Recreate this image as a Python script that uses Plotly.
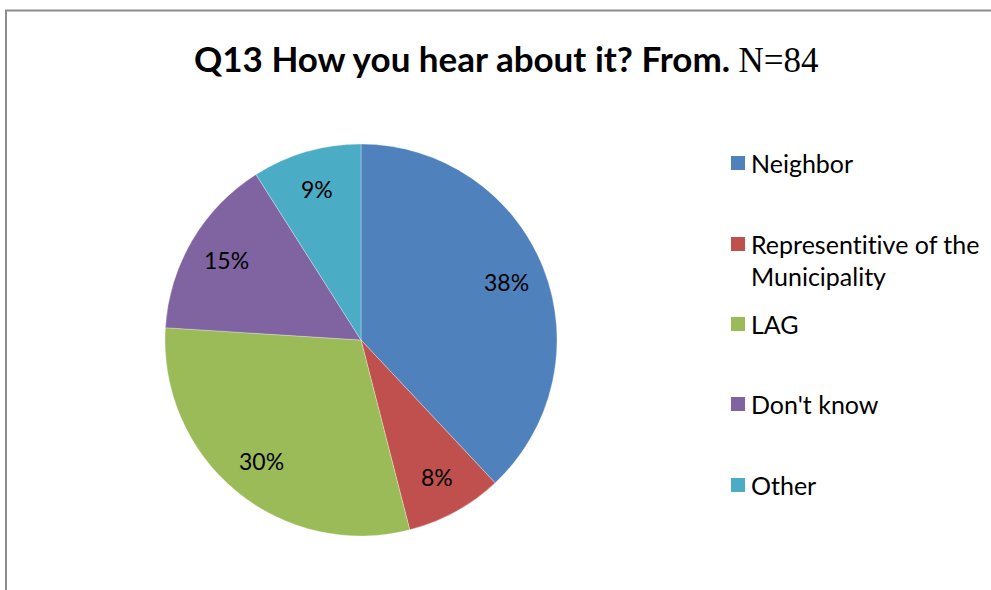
import math
import plotly.graph_objects as go

labels = ["Neighbor", "Representitive of the<br>Municipality", "LAG", "Don't know", "Other"]
values = [38, 8, 30, 15, 9]
colors = ["#4F81BD", "#C0504D", "#9BBB59", "#8064A2", "#4BACC6"]
title_text = "Q13 How you hear about it? From. "
title_n = "N=84"

W, H = 991, 590
FONT = "Lato, Open Sans, sans-serif"
CX, CY, R = 361, 340, 196  # pie centre / radius in pixels (layout)


def no_lig(s):
    # avoid the "ti" ligature of Lato
    return s.replace("ti", "t\u200ci")


fig = go.Figure()
fig.add_trace(go.Pie(
    labels=labels, values=values, sort=False, direction="clockwise", rotation=0,
    marker=dict(colors=colors, line=dict(color="rgba(255,255,255,0.6)", width=0.5)),
    textinfo="none",
    domain=dict(x=[(CX - R) / W, (CX + R) / W], y=[1 - (CY + R) / H, 1 - (CY - R) / H]),
    showlegend=False, hoverinfo="label+percent",
))

annotations = [dict(
    x=506 / W, y=1 - 59 / H, xref="paper", yref="paper", xanchor="center", yanchor="middle",
    showarrow=False,
    text="<b>" + title_text + "</b><span style='font-family:Liberation Serif;font-size:35px'>" + title_n + "</span>",
    font=dict(family=FONT, size=35, color="black"),
)]

# percentage labels inside the slices, from the data
total = sum(values)
cum = 0
for v in values:
    mid = (cum + v / 2) / total * 2 * math.pi
    cum += v
    px = CX + 0.80 * R * math.sin(mid)
    py = CY - 0.80 * R * math.cos(mid)
    annotations.append(dict(
        x=px / W, y=1 - py / H, xref="paper", yref="paper", xanchor="center", yanchor="middle",
        showarrow=False, text=f"{round(v / total * 100)}%",
        font=dict(family=FONT, size=23, color="black"),
    ))

shapes = []
legend_y = [163, 244, 324, 404, 485]
for lab, col, yy in zip(labels, colors, legend_y):
    shapes.append(dict(type="rect", xref="paper", yref="paper",
                       x0=731 / W, x1=745 / W, y0=1 - (yy + 7) / H, y1=1 - (yy - 7) / H,
                       fillcolor=col, line=dict(width=0)))
    for i, line in enumerate(lab.split("<br>")):
        annotations.append(dict(
            x=749 / W, y=1 - (yy + 32 * i) / H, xref="paper", yref="paper",
            xanchor="left", yanchor="middle", showarrow=False, text=no_lig(line),
            font=dict(family=FONT, size=25, color="black"),
        ))

# frame lines
shapes.append(dict(type="line", xref="paper", yref="paper", x0=5 / W, x1=1, y0=1 - 10.5 / H, y1=1 - 10.5 / H,
                   line=dict(color="#8c8c8c", width=2)))
shapes.append(dict(type="line", xref="paper", yref="paper", x0=6 / W, x1=6 / W, y0=0, y1=1 - 10 / H,
                   line=dict(color="#8c8c8c", width=2)))

fig.update_layout(
    width=W, height=H, margin=dict(l=0, r=0, t=0, b=0),
    paper_bgcolor="white", plot_bgcolor="white",
    annotations=annotations, shapes=shapes,
)
fig.write_html("out.html")
